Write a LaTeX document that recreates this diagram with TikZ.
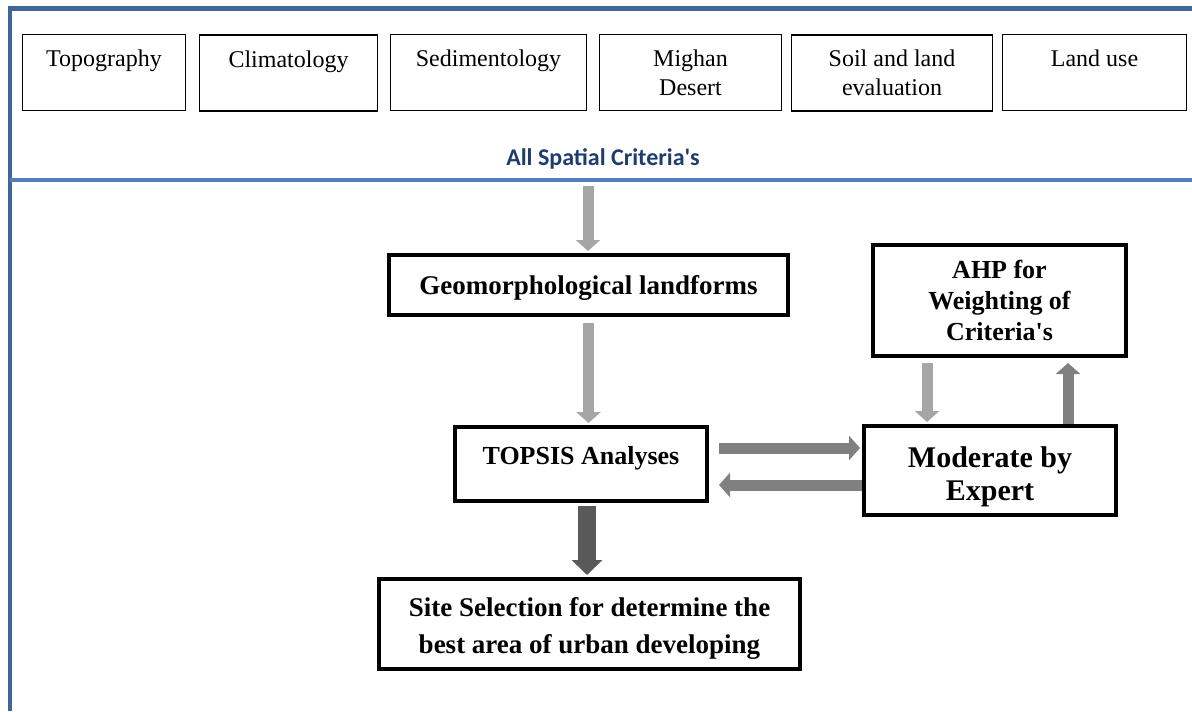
\documentclass[tikz,border=0pt]{standalone}
\usepackage{fontspec}
\setmainfont{Liberation Serif}
\newfontfamily\headfont{Carlito}
\usepackage{xcolor}
\usepackage{tikz}
\usetikzlibrary{arrows.meta,positioning,calc}
\definecolor{frameblue}{HTML}{41679A}
\definecolor{ruleblue}{HTML}{4F81BD}
\definecolor{headblue}{HTML}{1F3C6E}
\definecolor{arrowlight}{HTML}{A6A6A6}
\definecolor{arrowmid}{HTML}{808080}
\definecolor{arrowdark}{HTML}{595959}
\newcommand{\padtop}[1]{\rule{0pt}{#1}}
\tikzset{
  criterion/.style={rectangle, draw=black, line width=0.9pt, minimum height=38pt, align=center, inner sep=2pt, font=\fontsize{12}{14.5}\selectfont},
  stage/.style={rectangle, draw=black, line width=2pt, align=center, inner sep=2pt, font=\bfseries\fontsize{13.5}{16}\selectfont},
  blockflow/.style={line width=5.5pt, -{Triangle[length=5.5pt,width=12pt]}, shorten >=1pt},
  lightflow/.style={blockflow, draw=arrowlight},
  midflow/.style={blockflow, draw=arrowmid},
  darkflow/.style={line width=9pt, draw=arrowdark, -{Triangle[length=7.5pt,width=15pt]}, shorten >=1pt},
}
\begin{document}
\begin{tikzpicture}[x=0.5pt, y=-0.5pt]
  \useasboundingbox (0,0) rectangle (1192,711);
  % frame
  \draw[frameblue, line width=2.5pt] (8,9) -- (1192,9);
  \draw[frameblue, line width=2.25pt] (10,6) -- (10,711);
  \draw[ruleblue, line width=2pt] (10,180) -- (1192,180);
  % criteria row
  \node[criterion, minimum width=81.5pt] (topo) at (104,72.5) {\padtop{13.2pt}Topography\\\strut};
  \node[criterion, minimum width=89pt] (clim) at (288.5,73) {\padtop{13.2pt}Climatology\\\strut};
  \node[criterion, minimum width=98pt] (sedi) at (488.5,72.5) {\padtop{13.2pt}Sedimentology\\\strut};
  \node[criterion, minimum width=91pt] (mighan) at (690.5,72.5) {Mighan\\Desert};
  \node[criterion, minimum width=100.5pt] (soil) at (892,73) {Soil and land\\evaluation};
  \node[criterion, minimum width=92pt] (landuse) at (1094.5,72.5) {\padtop{13.2pt}Land use\\\strut};
  \node[font=\headfont\bfseries\fontsize{12}{14}\selectfont, text=headblue, anchor=base] (allcrit) at (603,166) {All Spatial Criteria\textquotesingle s};
  \coordinate (rulept) at (588,186);
  % stages
  \node[stage, minimum width=199.5pt, minimum height=30pt] (geo) at (588.5,285) {\padtop{12.2pt}Geomorphological landforms};
  \node[stage, font=\bfseries\fontsize{13}{15.5}\selectfont, minimum width=126pt, minimum height=37pt, text height=9pt, text depth=9pt] (topsis) at (581,464) {TOPSIS Analyses};
  \node[stage, font=\bfseries\fontsize{13.5}{18.5}\selectfont, minimum width=210.5pt, minimum height=45pt] (site) at (589.5,624) {\padtop{14.3pt}Site Selection for determine the\\best area of urban developing};
  \node[stage, font=\bfseries\fontsize{13}{15.5}\selectfont, minimum width=126.5pt, minimum height=55.5pt] (ahp) at (999.5,300.5) {AHP for\\Weighting of\\Criteria\textquotesingle s};
  \node[stage, font=\bfseries\fontsize{15}{16.5}\selectfont, minimum width=126pt, minimum height=44.5pt] (expert) at (990,470.5) {\padtop{16.3pt}Moderate by\\Expert};
  % arrows
  \draw[lightflow] (rulept) -- (rulept |- geo.north);
  \draw[lightflow, shorten <=3pt] (geo.south) -- (geo.south |- topsis.north);
  \coordinate (down) at ([xshift=3pt]topsis.south);
  \draw[darkflow, shorten <=1.5pt] (down) -- (down |- site.north);
  \coordinate (toR) at ([yshift=8pt]topsis.east);
  \draw[midflow, shorten <=5pt] (toR) -- (toR -| expert.west);
  \coordinate (toL) at ([yshift=-10.5pt]topsis.east);
  \draw[midflow, shorten >=5pt] (toL -| expert.west) -- (toL);
  \coordinate (ahpL) at ([xshift=-36.25pt]ahp.south);
  \draw[lightflow, shorten <=2.5pt] (ahpL) -- (ahpL |- expert.north);
  \coordinate (ahpR) at ([xshift=34.25pt]ahp.south);
  \draw[midflow, shorten >=2.5pt] (ahpR |- expert.north) -- (ahpR);
\end{tikzpicture}
\end{document}
